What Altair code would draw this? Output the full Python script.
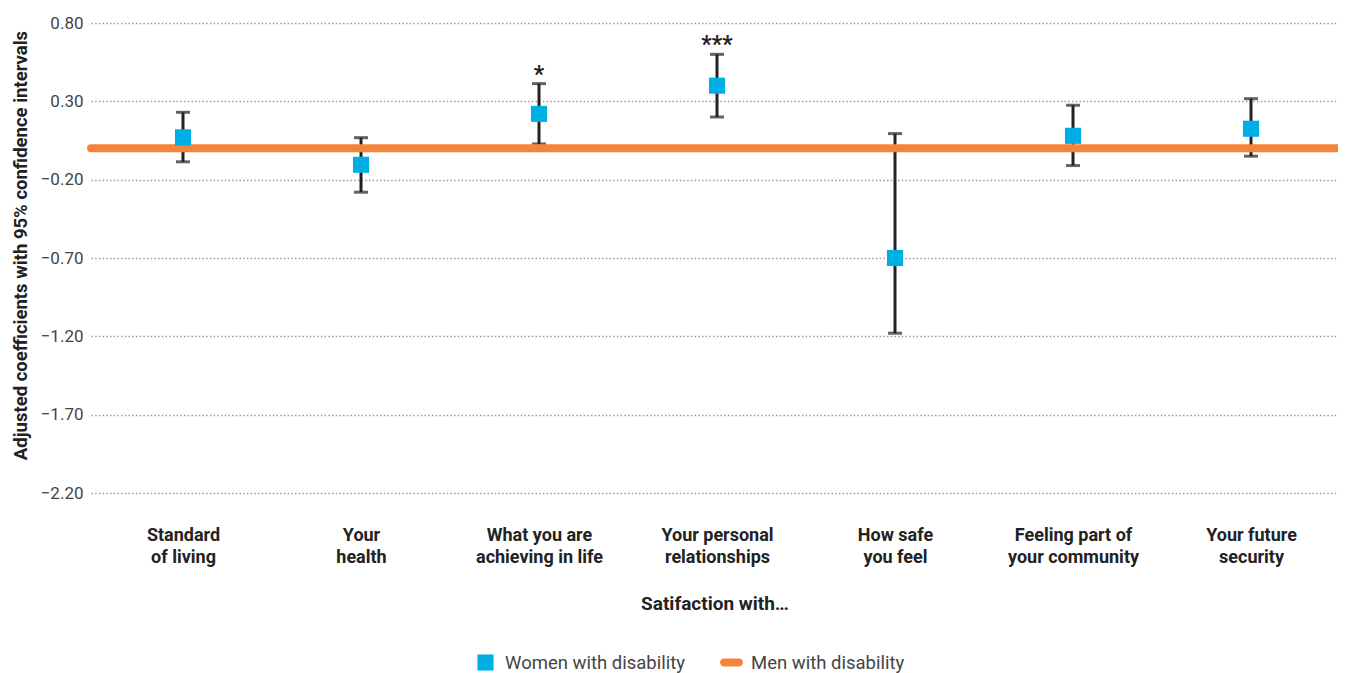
import altair as alt
import pandas as pd

categories = [
    "Standard\nof living",
    "Your\nhealth",
    "What you are\nachieving in life",
    "Your personal\nrelationships",
    "How safe\nyou feel",
    "Feeling part of\nyour community",
    "Your future\nsecurity",
]
coef = [0.07, -0.105, 0.22, 0.40, -0.70, 0.08, 0.125]
ci_low = [-0.086, -0.28, 0.028, 0.20, -1.18, -0.11, -0.05]
ci_high = [0.23, 0.068, 0.413, 0.60, 0.094, 0.275, 0.317]
signif = ["", "", "*", "***", "", "", ""]
y_ticks = [-2.2, -1.7, -1.2, -0.7, -0.2, 0.3, 0.8]
baseline_value = [0.0]

women = "Women with disability"
men = "Men with disability"
BLUE = "#00AEE6"
ORANGE = "#F4843B"
INK = "#222222"

df = pd.DataFrame({
    "cat": categories, "coef": coef, "lo": ci_low, "hi": ci_high,
    "sig": signif, "series": women,
})
base_df = pd.DataFrame({"v": baseline_value, "series": men})

BOLD = "Roboto"
REG = "Roboto"

x_enc = alt.X(
    "cat:N", sort=categories,
    scale=alt.Scale(type="point", padding=0.5028, align=0.514),
    axis=alt.Axis(
        title="Satifaction with…", labelAngle=0, domain=False, ticks=False,
        labelExpr="split(datum.label, '\\n')", labelFont=BOLD, labelFontWeight="bold",
        labelFontSize=18, labelColor=INK, labelLineHeight=22, labelPadding=33,
        titleFont=BOLD, titleFontWeight="bold", titleFontSize=19, titleColor=INK,
        titlePadding=28, grid=False,
    ),
)
y_scale = alt.Scale(domain=[-2.2, 0.8], nice=False, zero=False)

ci_rule = alt.Chart(df).mark_rule(color=INK, strokeWidth=3).encode(
    x=x_enc,
    y=alt.Y("lo:Q", scale=y_scale, axis=alt.Axis(
        values=y_ticks, format=".2f", labelExpr="replace(datum.label, '-', '\u2212')",
        title="Adjusted coefficients with 95% confidence intervals",
        domain=False, ticks=False, grid=True, gridDash=[1.5, 2.2], gridColor="#9a9a9a",
        gridWidth=1.5, labelFont=REG, labelFontSize=17, labelColor="#444444", labelPadding=8,
        titleFont=BOLD, titleFontWeight="bold", titleFontSize=18.5, titleColor=INK,
        titleX=-71, titleY=222, titleAngle=270, titleBaseline="middle", titleAlign="center",
    )),
    y2="hi:Q",
)
cap_lo = alt.Chart(df).mark_tick(color=INK, thickness=3, size=14, orient="horizontal").encode(
    x=alt.X("cat:N", sort=categories), y=alt.Y("lo:Q"))
cap_hi = alt.Chart(df).mark_tick(color=INK, thickness=3, size=14, orient="horizontal").encode(
    x=alt.X("cat:N", sort=categories), y=alt.Y("hi:Q"))

base_rule = alt.Chart(base_df).mark_rule(color=ORANGE, strokeWidth=8, strokeCap="round").encode(
    y=alt.Y("v:Q"))

sq_path = "M-0.7,-0.7 L0.7,-0.7 L0.7,0.7 L-0.7,0.7 Z"
pill_path = ("M-0.65,-0.35 L0.65,-0.35 A0.35,0.35 0 0 1 0.65,0.35 "
             "L-0.65,0.35 A0.35,0.35 0 0 1 -0.65,-0.35 Z")

points = alt.Chart(df).mark_point(filled=True, size=529, opacity=1).encode(
    x=alt.X("cat:N", sort=categories),
    y=alt.Y("coef:Q"),
    color=alt.Color("series:N", scale=alt.Scale(domain=[women, men], range=[BLUE, ORANGE]),
                    legend=alt.Legend(
                        title=None, orient="none", direction="horizontal",
                        legendX=383, legendY=628, symbolSize=529, symbolStrokeWidth=0,
                        labelFont=REG, labelFontSize=18.5, labelColor="#444444",
                        labelLimit=400, labelOffset=8, columnPadding=35, symbolOpacity=1)),
    shape=alt.Shape("series:N", scale=alt.Scale(domain=[women, men], range=[sq_path, pill_path])),
)

stars = alt.Chart(df).mark_text(
    font=REG, fontWeight="bold", fontSize=23, color=INK, dy=-9, baseline="middle"
).encode(x=alt.X("cat:N", sort=categories), y=alt.Y("hi:Q"), text="sig:N")

chart = alt.layer(ci_rule, cap_lo, cap_hi, base_rule, points, stars).properties(
    width=1247, height=470,
    autosize=alt.AutoSizeParams(type="none"),
    padding={"left": 83, "top": 15, "right": 0, "bottom": 180},
).configure_view(stroke=None)

chart.save("out.html", embed_options={"renderer": "svg", "actions": False})
